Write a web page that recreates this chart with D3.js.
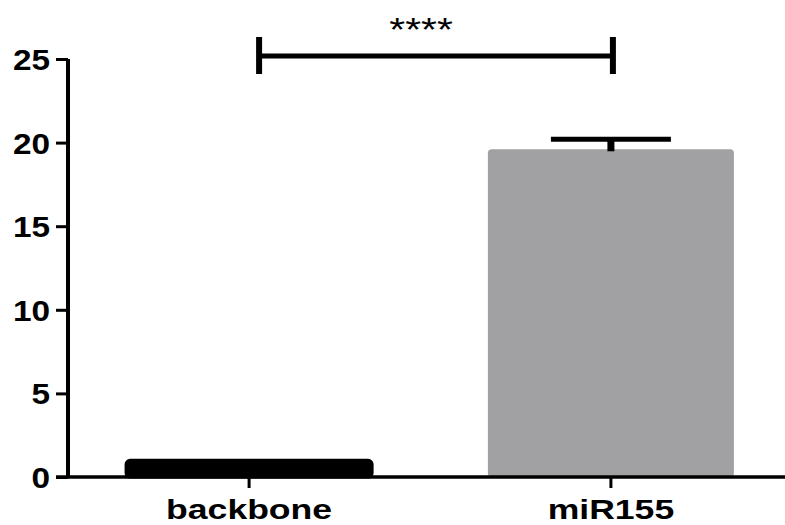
<!DOCTYPE html>
<html>
<head>
<meta charset="utf-8">
<script src="https://cdn.jsdelivr.net/npm/d3@7/dist/d3.min.js"></script>
<style>
  html, body { margin: 0; padding: 0; background: #fff; }
  svg { display: block; }
</style>
</head>
<body>
<svg id="chart" width="785" height="525"></svg>
<script>
// ---- data ----
const categories = ["backbone", "miR155"];
const means = [1.0, 19.6];
const errors = [0.0, 0.6];
const barColors = ["#000000", "#a1a1a4"];
const yTicks = [0, 5, 10, 15, 20, 25];
const sigLabel = "****";
const sigLevel = 25;

// ---- layout ----
const svg = d3.select("#chart");
const x = d3.scaleBand().domain(categories).range([70, 790]).paddingInner(0.32).paddingOuter(0.155);
const y = d3.scaleLinear().domain([0, 25]).range([477, 59]);

const font = "'Liberation Sans', Arial, sans-serif";

// bars
svg.selectAll("rect.bar").data(categories).enter().append("rect")
  .attr("class", "bar")
  .attr("x", d => x(d))
  .attr("width", x.bandwidth())
  .attr("y", (d, i) => y(means[i]))
  .attr("height", (d, i) => y(0) - y(means[i]))
  .attr("rx", 4).attr("ry", 4)
  .attr("fill", (d, i) => barColors[i])
  .attr("stroke", (d, i) => i === 0 ? "#000" : "none")
  .attr("stroke-width", 3);

// error bars
categories.forEach((c, i) => {
  if (errors[i] <= 0) return;
  const cx = x(c) + x.bandwidth() / 2;
  svg.append("line").attr("x1", cx).attr("x2", cx)
    .attr("y1", y(means[i]) + 2).attr("y2", y(means[i] + errors[i]))
    .attr("stroke", "#000").attr("stroke-width", 7);
  svg.append("line").attr("x1", cx - 60).attr("x2", cx + 60)
    .attr("y1", y(means[i] + errors[i])).attr("y2", y(means[i] + errors[i]))
    .attr("stroke", "#000").attr("stroke-width", 5);
});

// y axis
const yAxis = d3.axisLeft(y).tickValues(yTicks).tickSize(12).tickPadding(6).tickFormat(d3.format("d"));
const gy = svg.append("g").attr("transform", "translate(68,0)").call(yAxis);
gy.select(".domain").attr("stroke", "#000").attr("stroke-width", 4).attr("d", `M0,${y(25)}V${y(0)}`);
gy.selectAll(".tick line").attr("stroke", "#000").attr("stroke-width", 3);
gy.selectAll(".tick text")
  .attr("font-family", font).attr("font-weight", "bold").attr("font-size", 29).attr("fill", "#000")
  .attr("dy", "0.36em")
  .each(function() {
    const t = d3.select(this);
    const xx = +t.attr("x");
    t.attr("transform", `translate(${xx},0) scale(1.15,1) translate(${-xx},0)`);
  });

// x axis
const xAxis = d3.axisBottom(x).tickSize(11).tickPadding(8);
const gx = svg.append("g").attr("transform", `translate(0,${y(0)})`).call(xAxis);
gx.select(".domain").attr("stroke", "#000").attr("stroke-width", 3.5).attr("d", "M56,0H785");
gx.selectAll(".tick line").attr("stroke", "#000").attr("stroke-width", 3);
gx.selectAll(".tick text")
  .attr("font-family", font).attr("font-weight", "bold").attr("font-size", 28).attr("fill", "#000")
  .attr("dy", "0").attr("y", 42)
  .attr("transform", "scale(1.27,1)");

// significance bracket
const x1 = x(categories[0]) + x.bandwidth() / 2 + 10;
const x2 = x(categories[1]) + x.bandwidth() / 2 + 2;
const sy = y(sigLevel) - 3;
svg.append("line").attr("x1", x1).attr("x2", x2).attr("y1", sy).attr("y2", sy)
  .attr("stroke", "#000").attr("stroke-width", 5);
[x1, x2].forEach(xx => {
  svg.append("line").attr("x1", xx).attr("x2", xx).attr("y1", sy - 19).attr("y2", sy + 18)
    .attr("stroke", "#000").attr("stroke-width", 6);
});
svg.append("g").attr("transform", `translate(421,41) scale(1.2,1)`)
  .append("text").attr("text-anchor", "middle")
  .attr("font-family", font).attr("font-size", 34).attr("fill", "#000")
  .text(sigLabel);
</script>
</body>
</html>
